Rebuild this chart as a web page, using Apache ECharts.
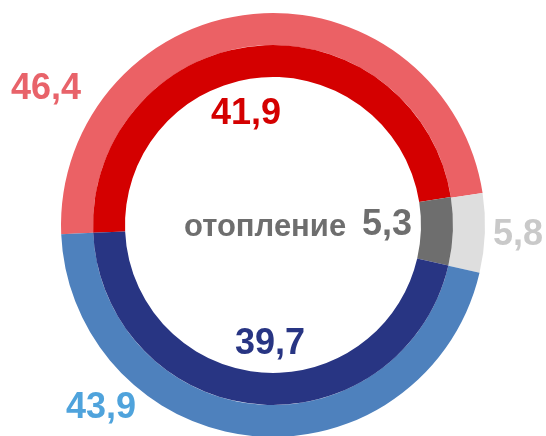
<!DOCTYPE html>
<html>
<head>
<meta charset="utf-8">
<script src="https://cdn.jsdelivr.net/npm/echarts@6/dist/echarts.min.js"></script>
<style>
  html, body { margin: 0; padding: 0; background: #ffffff; }
  #chart { width: 546px; height: 436px; }
</style>
</head>
<body>
<div id="chart"></div>
<script>
// Segment names (red / heating / blue) and the two rings of values
const categories = ['red', 'отопление', 'blue'];
const outerValues = [46.4, 5.8, 43.9];
const innerValues = [41.9, 5.3, 39.7];

const outerColors = ['#EB6165', '#DEDEDE', '#4E81BD'];
const innerColors = ['#D40000', '#6E6E6E', '#283583'];
const outerLabelColors = ['#E8636A', '#C9C9C9', '#4FA3DC'];
const innerLabelColors = ['#D40000', '#6E6E6E', '#283583'];

const fmt = v => v.toFixed(1).replace('.', ',');

const chart = echarts.init(document.getElementById('chart'), null, { renderer: 'canvas' });

const center = [273, 225];
const font = '"Liberation Sans", Arial, sans-serif';

function ringData(values, colors) {
  return values.map((v, i) => ({ name: categories[i], value: v, itemStyle: { color: colors[i] } }));
}

// Value labels placed around the rings
const labelPos = {
  outer: [[46, 89], [518, 235], [101, 408]],
  inner: [[246, 114], null, [270, 344]]
};

const graphics = [];
outerValues.forEach((v, i) => {
  graphics.push({
    type: 'text', x: labelPos.outer[i][0], y: labelPos.outer[i][1],
    style: { text: fmt(v), fill: outerLabelColors[i], font: 'bold 36px ' + font, textAlign: 'center', textVerticalAlign: 'middle' }
  });
});
innerValues.forEach((v, i) => {
  if (!labelPos.inner[i]) return;
  graphics.push({
    type: 'text', x: labelPos.inner[i][0], y: labelPos.inner[i][1],
    style: { text: fmt(v), fill: innerLabelColors[i], font: 'bold 36px ' + font, textAlign: 'center', textVerticalAlign: 'middle' }
  });
});
// Heating caption with its inner-ring value
graphics.push({
  type: 'text', x: 184, y: 227.5,
  style: { text: categories[1], fill: innerLabelColors[1], font: 'bold 31px ' + font, textAlign: 'left', textVerticalAlign: 'middle' }
});
graphics.push({
  type: 'text', x: 412, y: 225,
  style: { text: fmt(innerValues[1]), fill: innerLabelColors[1], font: 'bold 36px ' + font, textAlign: 'right', textVerticalAlign: 'middle' }
});

chart.setOption({
  animation: false,
  backgroundColor: '#ffffff',
  series: [
    {
      type: 'pie', center: center, radius: [180, 212], startAngle: 182.5, clockwise: true,
      label: { show: false }, labelLine: { show: false }, silent: true,
      data: ringData(outerValues, outerColors)
    },
    {
      type: 'pie', center: center, radius: [148, 180], startAngle: 182.5, clockwise: true,
      label: { show: false }, labelLine: { show: false }, silent: true,
      data: ringData(innerValues, innerColors)
    }
  ],
  graphic: graphics
});
</script>
</body>
</html>
